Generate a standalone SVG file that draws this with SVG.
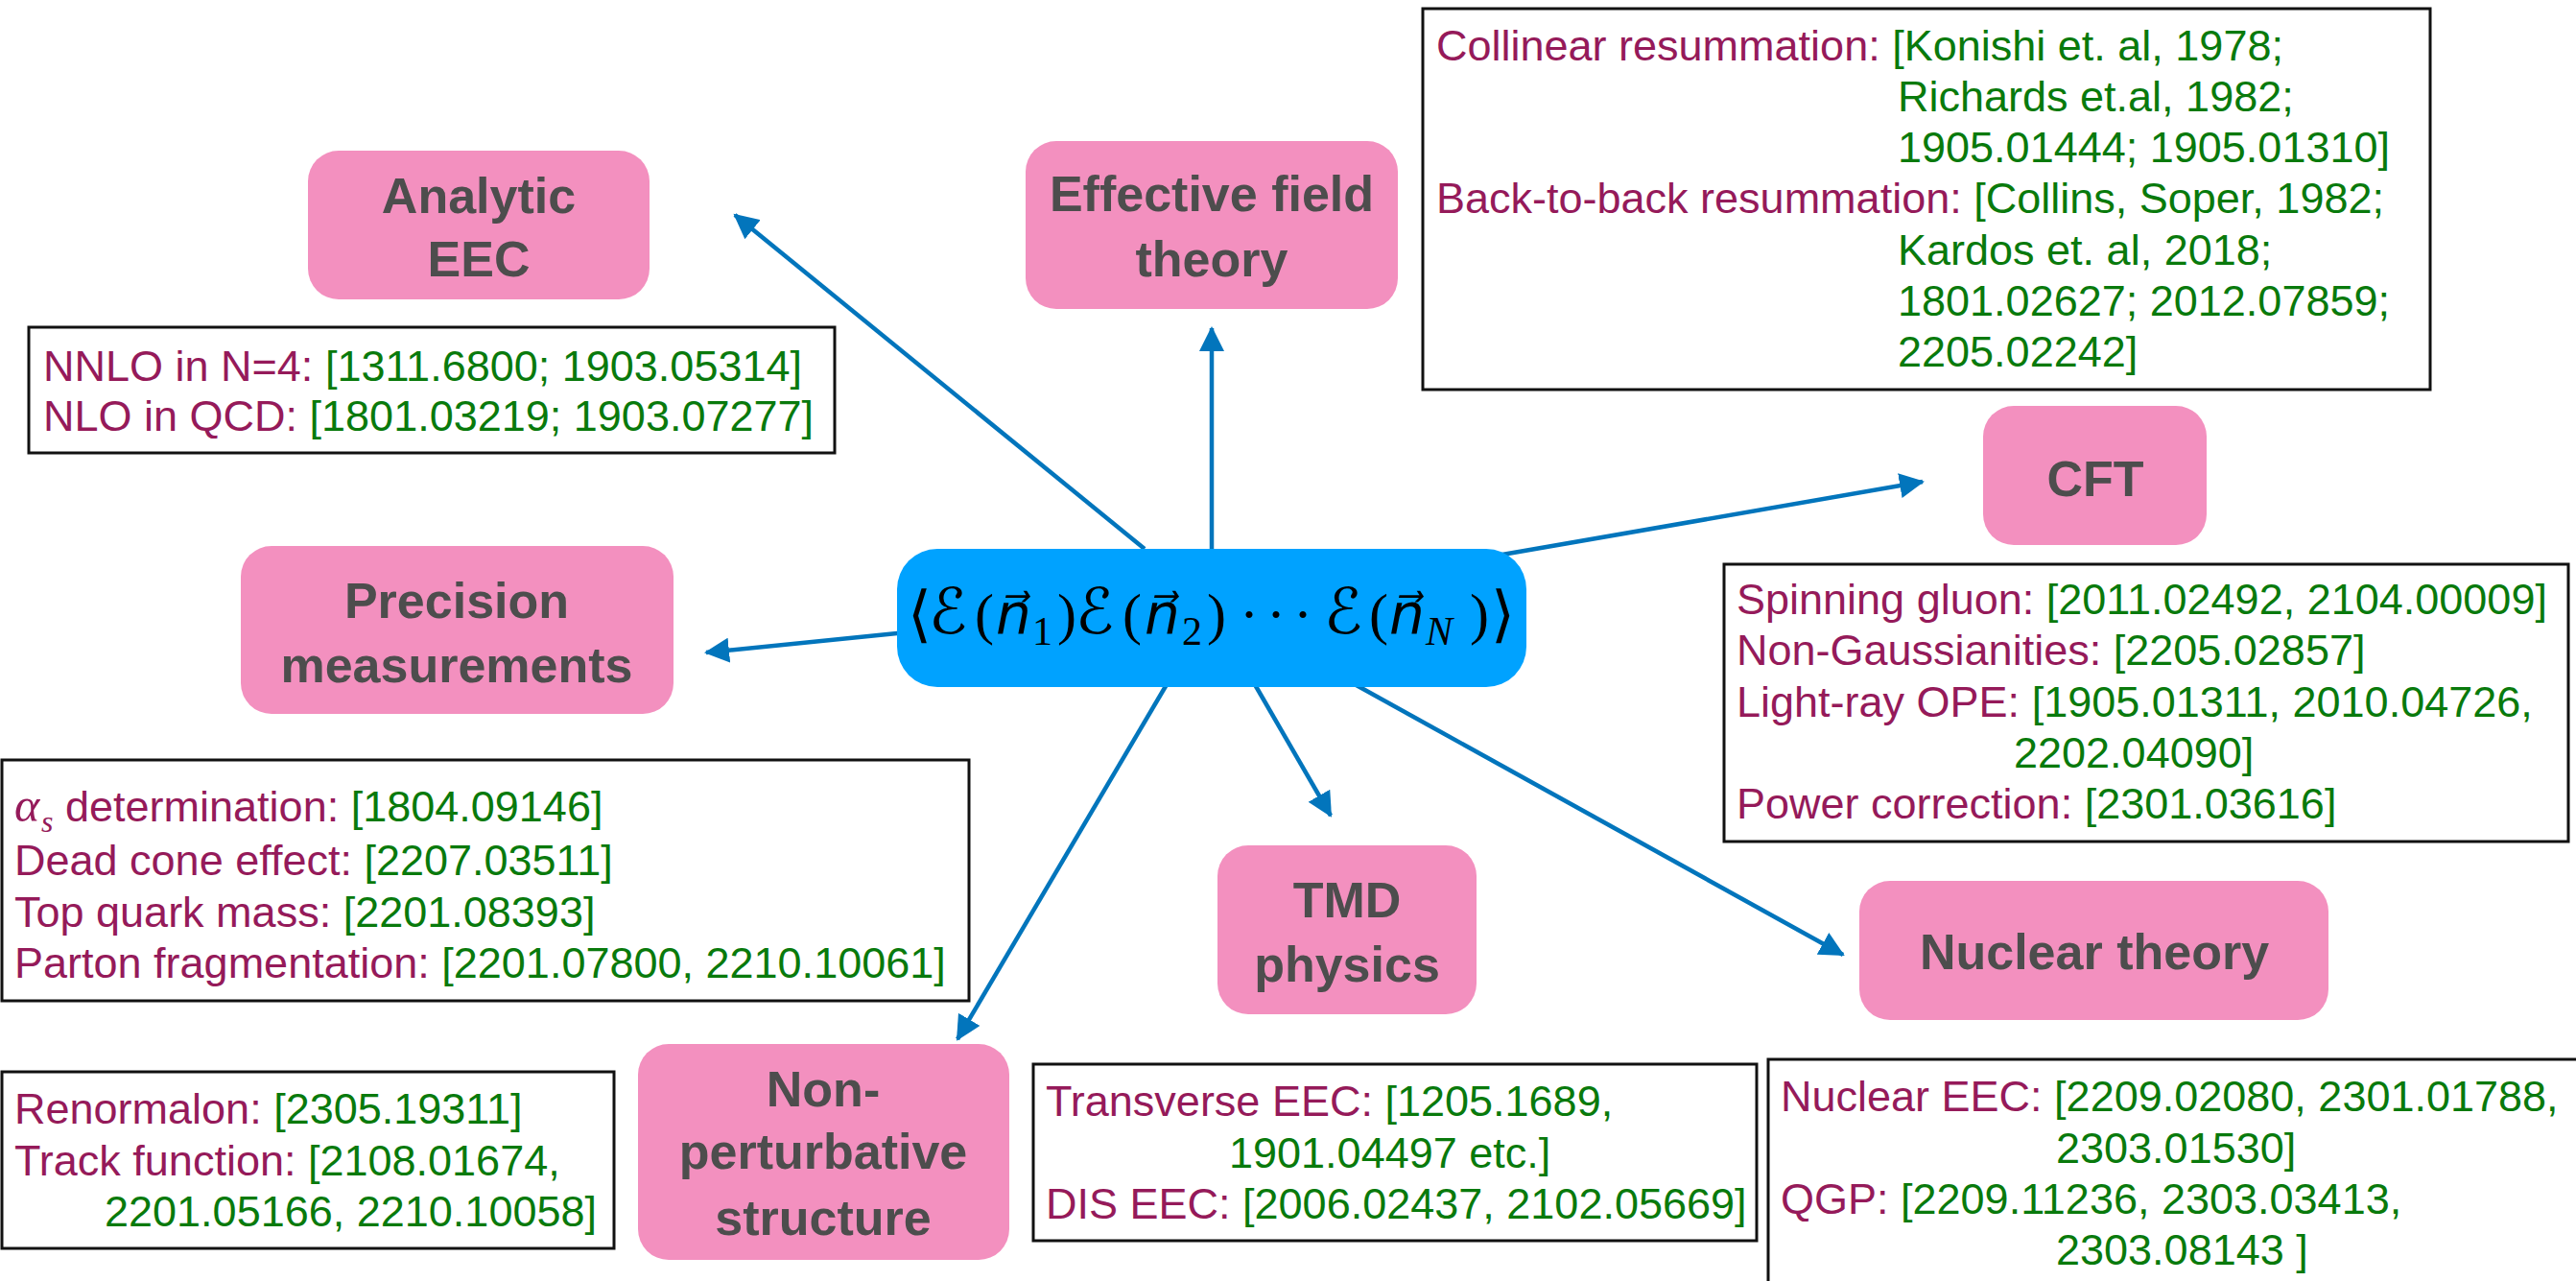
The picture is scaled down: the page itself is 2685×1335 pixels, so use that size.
<svg xmlns="http://www.w3.org/2000/svg" width="2685" height="1335" viewBox="0 0 2685 1335">
<style>
.pink{fill:#F390BF}
.lbl{font-family:"Liberation Sans",Arial,sans-serif;font-weight:bold;font-size:52px;fill:#4D4D4D;text-anchor:middle}
.ref{fill:#fff;stroke:#111;stroke-width:3}
.t{font-family:"Liberation Sans",Arial,sans-serif;font-size:45px}
.r{fill:#951A5A}
.g{fill:#097A0C}
.conn{stroke:#0275BC;stroke-width:4.5;fill:none;marker-end:url(#ah)}
.m{font-family:"Liberation Serif","DejaVu Serif","DejaVu Sans",serif;font-size:60px;fill:#000}
.cal{font-family:"DejaVu Serif","DejaVu Sans",serif;font-size:66px}
.br{font-family:"DejaVu Serif","DejaVu Sans",serif;font-size:64px}
.vn{font-family:"DejaVu Serif","DejaVu Sans",serif;font-style:italic;font-size:58px}
</style>
<defs>
<marker id="ah" markerUnits="userSpaceOnUse" markerWidth="28" markerHeight="26" refX="24" refY="13" orient="auto">
<path d="M0,0 L26,13 L0,26 z" fill="#0275BC"/>
</marker>
</defs>
<rect width="2685" height="1335" fill="#fff"/>
<g id="connectors">
<line class="conn" x1="1193" y1="572" x2="766" y2="224"/>
<line class="conn" x1="1263" y1="580" x2="1263" y2="342"/>
<line class="conn" x1="1560" y1="579" x2="2004" y2="502"/>
<line class="conn" x1="945" y1="659" x2="736" y2="680"/>
<line class="conn" x1="1218" y1="710" x2="998" y2="1083"/>
<line class="conn" x1="1306" y1="710" x2="1387" y2="850"/>
<line class="conn" x1="1410" y1="712" x2="1921" y2="995"/>
</g>
<g id="center">
<rect x="935" y="572" width="656" height="144" rx="42" fill="#00A2FF"/>
<text class="m"><tspan class="br" x="946" y="662">⟨</tspan><tspan class="cal" x="968" y="660">ℰ</tspan><tspan x="1016" y="660">(</tspan><tspan class="vn" x="1038" y="660">n&#x20D7;</tspan><tspan x="1076" y="672" font-size="42">1</tspan><tspan x="1102" y="660">)</tspan><tspan class="cal" x="1121" y="660">ℰ</tspan><tspan x="1170" y="660">(</tspan><tspan class="vn" x="1193" y="660">n&#x20D7;</tspan><tspan x="1232" y="672" font-size="42">2</tspan><tspan x="1258" y="660">)</tspan><tspan x="1292" y="660" letter-spacing="8">···</tspan><tspan class="cal" x="1380" y="660">ℰ</tspan><tspan x="1427" y="660">(</tspan><tspan class="vn" x="1448" y="660">n&#x20D7;</tspan><tspan x="1486" y="672" font-size="42" font-style="italic">N</tspan><tspan x="1532" y="660">)</tspan><tspan class="br" x="1554" y="662">⟩</tspan></text>
</g>
<g id="analytic">
<rect class="pink" x="321" y="157" width="356" height="155" rx="32"/>
<text class="lbl" x="499" y="222">Analytic</text>
<text class="lbl" x="499" y="288">EEC</text>
</g>
<g id="eft">
<rect class="pink" x="1069" y="147" width="388" height="175" rx="32"/>
<text class="lbl" x="1263" y="220">Effective field</text>
<text class="lbl" x="1263" y="288">theory</text>
</g>
<g id="cft">
<rect class="pink" x="2067" y="423" width="233" height="145" rx="32"/>
<text class="lbl" x="2184" y="517">CFT</text>
</g>
<g id="precision">
<rect class="pink" x="251" y="569" width="451" height="175" rx="32"/>
<text class="lbl" x="476" y="644">Precision</text>
<text class="lbl" x="476" y="711">measurements</text>
</g>
<g id="nonpert">
<rect class="pink" x="665" y="1088" width="387" height="225" rx="32"/>
<text class="lbl" x="858" y="1153">Non-</text>
<text class="lbl" x="858" y="1218">perturbative</text>
<text class="lbl" x="858" y="1287">structure</text>
</g>
<g id="tmd">
<rect class="pink" x="1269" y="881" width="270" height="176" rx="32"/>
<text class="lbl" x="1404" y="956">TMD</text>
<text class="lbl" x="1404" y="1023">physics</text>
</g>
<g id="nuclear">
<rect class="pink" x="1938" y="918" width="489" height="145" rx="32"/>
<text class="lbl" x="2183" y="1010">Nuclear theory</text>
</g>
<g id="ref-analytic">
<rect class="ref" x="30" y="341" width="840" height="131"/>
<text class="t" x="45" y="397"><tspan class="r">NNLO in N=4: </tspan><tspan class="g">[1311.6800; 1903.05314]</tspan></text>
<text class="t" x="45" y="449"><tspan class="r">NLO in QCD: </tspan><tspan class="g">[1801.03219; 1903.07277]</tspan></text>
</g>
<g id="ref-eft">
<rect class="ref" x="1483" y="9" width="1050" height="397"/>
<text class="t" x="1497" y="63"><tspan class="r">Collinear resummation: </tspan><tspan class="g">[Konishi et. al, 1978;</tspan></text>
<text class="t g" x="1978" y="116">Richards et.al, 1982;</text>
<text class="t g" x="1978" y="169">1905.01444; 1905.01310]</text>
<text class="t" x="1497" y="222"><tspan class="r">Back-to-back resummation: </tspan><tspan class="g">[Collins, Soper, 1982;</tspan></text>
<text class="t g" x="1978" y="276">Kardos et. al, 2018;</text>
<text class="t g" x="1978" y="329">1801.02627; 2012.07859;</text>
<text class="t g" x="1978" y="382">2205.02242]</text>
</g>
<g id="ref-cft">
<rect class="ref" x="1797" y="588" width="880" height="289"/>
<text class="t" x="1810" y="640"><tspan class="r">Spinning gluon: </tspan><tspan class="g">[2011.02492, 2104.00009]</tspan></text>
<text class="t" x="1810" y="693"><tspan class="r">Non-Gaussianities: </tspan><tspan class="g">[2205.02857]</tspan></text>
<text class="t" x="1810" y="747"><tspan class="r">Light-ray OPE: </tspan><tspan class="g">[1905.01311, 2010.04726,</tspan></text>
<text class="t g" x="2099" y="800">2202.04090]</text>
<text class="t" x="1810" y="853"><tspan class="r">Power correction: </tspan><tspan class="g">[2301.03616]</tspan></text>
</g>
<g id="ref-precision">
<rect class="ref" x="2" y="792" width="1008" height="251"/>
<text class="t" x="15" y="856"><tspan class="r" font-family="Liberation Serif,serif" font-style="italic" font-size="50">α</tspan><tspan class="r" font-family="Liberation Serif,serif" font-style="italic" font-size="32" x="43" y="867">s</tspan><tspan class="r" x="68" y="856">determination: </tspan><tspan class="g">[1804.09146]</tspan></text>
<text class="t" x="15" y="912"><tspan class="r">Dead cone effect: </tspan><tspan class="g">[2207.03511]</tspan></text>
<text class="t" x="15" y="966"><tspan class="r">Top quark mass: </tspan><tspan class="g">[2201.08393]</tspan></text>
<text class="t" x="15" y="1019"><tspan class="r">Parton fragmentation: </tspan><tspan class="g">[2201.07800, 2210.10061]</tspan></text>
</g>
<g id="ref-nonpert">
<rect class="ref" x="2" y="1117" width="638" height="184"/>
<text class="t" x="15" y="1171"><tspan class="r">Renormalon: </tspan><tspan class="g">[2305.19311]</tspan></text>
<text class="t" x="15" y="1225"><tspan class="r">Track function: </tspan><tspan class="g">[2108.01674,</tspan></text>
<text class="t g" x="109" y="1278">2201.05166, 2210.10058]</text>
</g>
<g id="ref-tmd">
<rect class="ref" x="1077" y="1109" width="754" height="184"/>
<text class="t" x="1090" y="1163"><tspan class="r">Transverse EEC: </tspan><tspan class="g">[1205.1689,</tspan></text>
<text class="t g" x="1281" y="1217">1901.04497 etc.]</text>
<text class="t" x="1090" y="1270"><tspan class="r">DIS EEC: </tspan><tspan class="g">[2006.02437, 2102.05669]</tspan></text>
</g>
<g id="ref-nuclear">
<rect class="ref" x="1843" y="1104" width="870" height="260"/>
<text class="t" x="1856" y="1158"><tspan class="r">Nuclear EEC: </tspan><tspan class="g">[2209.02080, 2301.01788,</tspan></text>
<text class="t g" x="2143" y="1212">2303.01530]</text>
<text class="t" x="1856" y="1265"><tspan class="r">QGP: </tspan><tspan class="g">[2209.11236, 2303.03413,</tspan></text>
<text class="t g" x="2143" y="1318">2303.08143 ]</text>
</g>
</svg>
